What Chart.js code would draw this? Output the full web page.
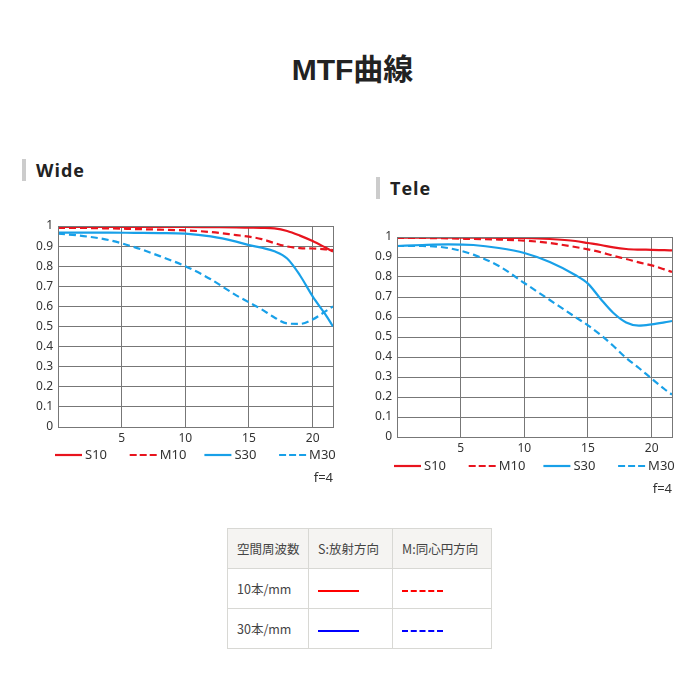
<!DOCTYPE html>
<html>
<head>
<meta charset="utf-8">
<script src="https://cdn.jsdelivr.net/npm/chart.js@4"></script>
<style>
  body { margin: 0; background: #fff; font-family: "Noto Sans", "Noto Sans CJK JP", sans-serif; }
  #page { position: relative; width: 700px; height: 700px; }
  h1 { position: absolute; left: 0; top: 45px; width: 700px; margin: 0; padding-left: 5px; box-sizing: border-box;
       text-align: center; font: bold 30px "Liberation Sans", "Noto Sans CJK JP", sans-serif; color: #222; }
  .hd { position: absolute; margin: 0; font: bold 18px "Open Sans", sans-serif; letter-spacing: 1px; color: #222;
        border-left: 4px solid #ccc; padding-left: 10px; line-height: 22px; }
  .box { position: absolute; width: 320px; height: 280px; }
  table { position: absolute; left: 227px; top: 528px; border-collapse: collapse; table-layout: fixed; width: 264px;
          font-size: 12.5px; color: #444; font-family: "Noto Sans CJK JP", sans-serif; }
  td { border: 1px solid #d8d8d4; height: 39px; padding: 0 0 0 9px; text-align: left; white-space: nowrap; overflow: hidden; }
  tr.head td { background: #f5f4f2; }
  .ln { display: inline-block; width: 41px; height: 0; border-top: 2px solid; vertical-align: middle; }
</style>
</head>
<body>
<div id="page">
  <h1>MTF曲線</h1>
  <div class="hd" style="left:22px; top:159px;">Wide</div>
  <div class="hd" style="left:376px; top:177px;">Tele</div>
  <div class="box" style="left:20px; top:210px;"><canvas id="wide"></canvas></div>
  <div class="box" style="left:359px; top:221px;"><canvas id="tele"></canvas></div>
  <table>
    <colgroup><col style="width:81px"><col style="width:84px"><col style="width:99px"></colgroup>
    <tr class="head"><td>空間周波数</td><td>S:放射方向</td><td>M:同心円方向</td></tr>
    <tr><td>10本/mm</td><td><span class="ln" style="border-color:#f00"></span></td><td><span class="ln" style="border-color:#f00;border-top-style:dashed"></span></td></tr>
    <tr><td>30本/mm</td><td><span class="ln" style="border-color:#00f"></span></td><td><span class="ln" style="border-color:#00f;border-top-style:dashed"></span></td></tr>
  </table>
</div>
<script>
// image height (mm) where each value was read
var xs = [0, 2, 4, 6, 8, 10, 12, 14, 15, 16, 17, 18, 19, 20, 21, 21.6];

var wideS10 = [0.995, 0.995, 0.995, 0.995, 0.995, 0.995, 0.994, 0.993, 0.992, 0.991, 0.988, 0.975, 0.952, 0.925, 0.893, 0.873];
var wideM10 = [0.99, 0.99, 0.988, 0.985, 0.982, 0.978, 0.97, 0.955, 0.947, 0.935, 0.915, 0.898, 0.89, 0.888, 0.884, 0.88];
var wideS30 = [0.967, 0.967, 0.967, 0.966, 0.965, 0.962, 0.948, 0.922, 0.905, 0.892, 0.874, 0.838, 0.755, 0.65, 0.56, 0.5];
var wideM30 = [0.962, 0.95, 0.93, 0.895, 0.85, 0.8, 0.735, 0.655, 0.62, 0.585, 0.545, 0.515, 0.513, 0.535, 0.575, 0.6];

var teleS10 = [0.997, 0.997, 0.997, 0.997, 0.996, 0.995, 0.99, 0.98, 0.97, 0.96, 0.948, 0.94, 0.937, 0.936, 0.934, 0.933];
var teleM10 = [0.995, 0.995, 0.993, 0.99, 0.987, 0.982, 0.97, 0.95, 0.938, 0.924, 0.906, 0.89, 0.873, 0.858, 0.838, 0.825];
var teleS30 = [0.955, 0.96, 0.963, 0.96, 0.945, 0.92, 0.875, 0.81, 0.767, 0.69, 0.62, 0.573, 0.557, 0.563, 0.573, 0.58];
var teleM30 = [0.955, 0.955, 0.945, 0.912, 0.855, 0.77, 0.685, 0.6, 0.558, 0.51, 0.455, 0.395, 0.345, 0.292, 0.24, 0.212];

var seriesNames = ['S10', 'M10', 'S30', 'M30'];
var xTicks = [5, 10, 15, 20];
var yTickLabels = ['0', '0.1', '0.2', '0.3', '0.4', '0.5', '0.6', '0.7', '0.8', '0.9', '1'];
var note = 'f=4';

var RED = '#e8141e', BLUE = '#18a0e8', GRID = '#777';
var styles = [
  { color: RED, dash: [] },
  { color: RED, dash: [7, 4] },
  { color: BLUE, dash: [] },
  { color: BLUE, dash: [7, 4] }
];

function points(ys) {
  return xs.map(function (x, i) { return { x: x, y: ys[i] }; });
}

var framePlugin = {
  id: 'frame',
  afterDraw: function (chart) {
    var a = chart.chartArea, ctx = chart.ctx;
    ctx.save();
    ctx.strokeStyle = GRID;
    ctx.lineWidth = 1;
    ctx.strokeRect(Math.round(a.left) + 0.5, Math.round(a.top) + 0.5, Math.round(a.right - a.left), Math.round(a.bottom - a.top));

    // legend row + note under the plot
    ctx.font = '13px "Noto Sans", sans-serif';
    ctx.textBaseline = 'middle';
    ctx.fillStyle = '#333';
    var ly = a.bottom + chart.options.legendGap;
    for (var i = 0; i < seriesNames.length; i++) {
      var x0 = a.left - 3 + i * 74.7;
      ctx.strokeStyle = styles[i].color;
      ctx.lineWidth = 2.2;
      ctx.setLineDash(i % 2 ? [7, 3] : []);
      ctx.beginPath();
      ctx.moveTo(x0, ly);
      ctx.lineTo(x0 + 27, ly);
      ctx.stroke();
      ctx.setLineDash([]);
      ctx.textAlign = 'left';
      ctx.fillText(seriesNames[i], x0 + 30, ly);
    }
    ctx.textAlign = 'right';
    ctx.fillText(note, a.right, ly + 23);
    ctx.restore();
  }
};

function makeChart(id, data, bottomPad, legendGap) {
  return new Chart(document.getElementById(id), {
    type: 'line',
    data: {
      datasets: data.map(function (ys, i) {
        return {
          label: seriesNames[i],
          data: points(ys),
          borderColor: styles[i].color,
          backgroundColor: styles[i].color,
          borderDash: styles[i].dash,
          borderWidth: 2.2,
          pointRadius: 0,
          cubicInterpolationMode: 'monotone',
          fill: false
        };
      })
    },
    plugins: [framePlugin],
    options: {
      responsive: true,
      maintainAspectRatio: false,
      animation: false,
      legendGap: legendGap,
      layout: { padding: { top: 16, right: 7, bottom: bottomPad, left: 0 } },
      plugins: { legend: { display: false }, tooltip: { enabled: false } },
      scales: {
        x: {
          type: 'linear',
          min: 0,
          max: 21.6,
          afterBuildTicks: function (s) { s.ticks = xTicks.map(function (v) { return { value: v }; }); },
          afterFit: function (s) { s.height = 22; },
          grid: { color: GRID, drawTicks: false },
          border: { color: GRID },
          ticks: { padding: 4, color: '#333', maxRotation: 0, font: { size: 12, family: '"Noto Sans", sans-serif' } }
        },
        y: {
          min: 0,
          max: 1,
          afterFit: function (s) { s.width = 38; },
          grid: { color: GRID, drawTicks: false },
          border: { color: GRID },
          ticks: {
            stepSize: 0.1,
            padding: 5,
            color: '#333',
            font: { size: 12, family: '"Noto Sans", sans-serif' },
            callback: function (v, i) { return yTickLabels[i]; }
          }
        }
      }
    }
  });
}

makeChart('wide', [wideS10, wideM10, wideS30, wideM30], 41, 28);
makeChart('tele', [teleS10, teleM10, teleS30, teleM30], 42, 29);
</script>
</body>
</html>
